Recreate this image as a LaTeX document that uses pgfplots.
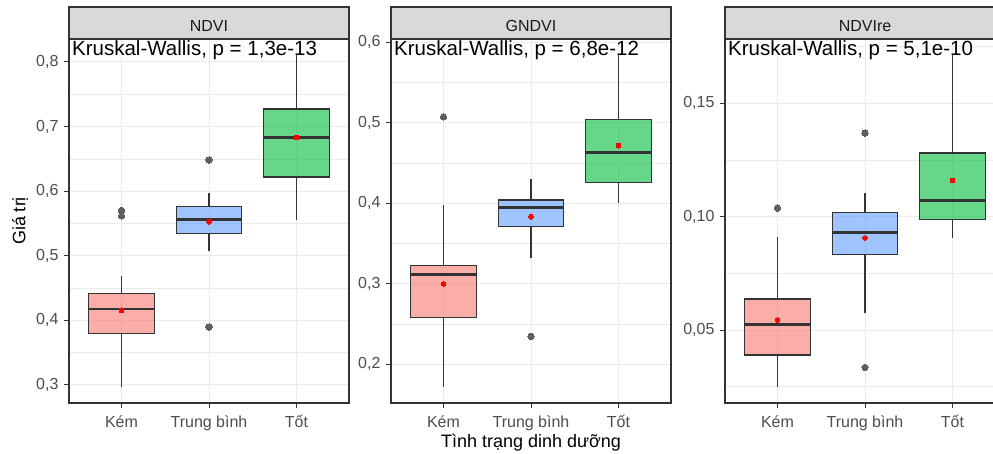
\documentclass[border=0pt]{standalone}
\usepackage{fontspec}
\setmainfont{Liberation Sans}
\usepackage{pgfplots}
\pgfplotsset{compat=1.18}
\definecolor{g10}{HTML}{1A1A1A}
\definecolor{g20}{HTML}{333333}
\definecolor{g30}{HTML}{4D4D4D}
\definecolor{g92}{HTML}{EBEBEB}
\definecolor{stripg}{HTML}{D9D9D9}
\definecolor{cR}{HTML}{F8766D}
\definecolor{cB}{HTML}{619CFF}
\definecolor{cG}{HTML}{00BA38}
\definecolor{outl}{HTML}{5F5F5F}
\pgfplotsset{
  facet/.style={
    scale only axis, width=280pt, height=364pt, anchor=south west,
    xmin=0.4, xmax=3.6, xtick={1,2,3}, xticklabels={Kém,Trung bình,Tốt},
    grid=both,
    major grid style={g92, line width=1pt},
    minor grid style={g92, line width=0.5pt},
    axis line style={g20, line width=1.2pt},
    tick align=outside, major tick length=5pt, minor tick length=0pt,
    tick style={g20, line width=1pt},
    xtick pos=bottom, ytick pos=left,
    ticklabel style={font=\fontsize{16}{19}\selectfont, text=g30},
    xticklabel style={yshift=-4pt},
    /pgf/number format/assume math mode=true,
  },
  whisk/.style={g20, line width=1.3pt, no marks},
  boxs/.style={draw=g20, line width=1.3pt, fill=#1, fill opacity=0.6, no marks},
  meds/.style={g20, line width=2.6pt, no marks},
  outs/.style={only marks, mark=*, mark size=3.2pt, mark options={fill=outl, draw=outl, line width=0pt}},
  meanpt/.style={only marks, mark=*, mark size=2.4pt, color=red, mark options={line width=0pt}},
}
% #1 pos, #2 left, #3 right, #4 lower whisker, #5 lower quartile, #6 median, #7 upper quartile, #8 upper whisker, #9 colour
\newcommand{\bxp}[9]{%
  \addplot[whisk] coordinates {(#1,#4) (#1,#5)};
  \addplot[whisk] coordinates {(#1,#7) (#1,#8)};
  \addplot[boxs=#9] coordinates {(#2,#5) (#3,#5) (#3,#7) (#2,#7)} --cycle;
  \addplot[meds] coordinates {(#2,#6) (#3,#6)};
}
\begin{document}
\begin{tikzpicture}
\useasboundingbox (0,0) rectangle (993pt,454pt);
% ---------------- NDVI
\begin{axis}[facet, name=p1, at={(69pt,51pt)}, ymin=0.272, ymax=0.8356,
  ytick={0.3,0.4,0.5,0.6,0.7,0.8}, minor ytick={0.35,0.45,0.55,0.65,0.75},
  yticklabel style={xshift=-2pt, /pgf/number format/.cd, use comma, fixed, fixed zerofill, precision=1}]
\addplot[outs] coordinates {(1,0.570) (1,0.5616) (2,0.6483) (2,0.3898)};
\bxp{1}{0.625}{1.375}{0.2974}{0.380}{0.4177}{0.4413}{0.469}{cR}
\bxp{2}{1.625}{2.375}{0.508}{0.5348}{0.5565}{0.576}{0.5977}{cB}
\bxp{3}{2.625}{3.375}{0.5554}{0.622}{0.6828}{0.7273}{0.811}{cG}
\addplot[meanpt] coordinates {(1,0.4156) (2,0.5528) (3,0.683)};
\end{axis}
% ---------------- GNDVI
\begin{axis}[facet, name=p2, at={(391pt,51pt)}, ymin=0.152, ymax=0.604,
  ytick={0.2,0.3,0.4,0.5,0.6}, minor ytick={0.25,0.35,0.45,0.55},
  yticklabel style={xshift=-2pt, /pgf/number format/.cd, use comma, fixed, fixed zerofill, precision=1}]
\addplot[outs] coordinates {(1,0.5072) (2,0.2348)};
\bxp{1}{0.625}{1.375}{0.1722}{0.258}{0.3118}{0.3225}{0.398}{cR}
\bxp{2}{1.625}{2.375}{0.3324}{0.371}{0.395}{0.404}{0.4298}{cB}
\bxp{3}{2.625}{3.375}{0.4008}{0.4256}{0.4633}{0.5039}{0.5842}{cG}
\addplot[meanpt] coordinates {(1,0.300) (2,0.3834) (3,0.4716)};
\end{axis}
% ---------------- NDVIre
\begin{axis}[facet, name=p3, at={(725pt,51pt)}, ymin=0.0178, ymax=0.1784,
  ytick={0.05,0.10,0.15}, minor ytick={0.025,0.075,0.125,0.175},
  yticklabel style={xshift=-2pt, /pgf/number format/.cd, use comma, fixed, fixed zerofill, precision=2}]
\addplot[outs] coordinates {(1,0.1038) (2,0.1369) (2,0.0335)};
\bxp{1}{0.625}{1.375}{0.025}{0.039}{0.0525}{0.0637}{0.091}{cR}
\bxp{2}{1.625}{2.375}{0.0576}{0.0832}{0.0929}{0.102}{0.1106}{cB}
\bxp{3}{2.625}{3.375}{0.0906}{0.0987}{0.1072}{0.1281}{0.1713}{cG}
\addplot[meanpt] coordinates {(1,0.0545) (2,0.0906) (3,0.116)};
\end{axis}
% strips and texts
\foreach \p/\t/\k in {p1/NDVI/{1,3e-13}, p2/GNDVI/{6,8e-12}, p3/NDVIre/{5,1e-10}} {
  \draw[g20, line width=1.2pt, fill=stripg] (\p.north west) rectangle ([yshift=32pt]\p.north east);
  \node[text=g10, font=\fontsize{16}{19}\selectfont] at ([yshift=13pt]\p.north) {\t};
  \node[anchor=base west, inner sep=0pt, font=\fontsize{20.5}{24}\selectfont] at ([xshift=3pt, yshift=-17pt]\p.north west) {Kruskal-Wallis, p = \k};
}
\node[rotate=90, font=\fontsize{18}{21}\selectfont] at ([xshift=-49pt]p1.west) {Giá trị};
\node[font=\fontsize{18}{21}\selectfont] at ([yshift=-40pt]p2.south) {Tình trạng dinh dưỡng};
\end{tikzpicture}
\end{document}
